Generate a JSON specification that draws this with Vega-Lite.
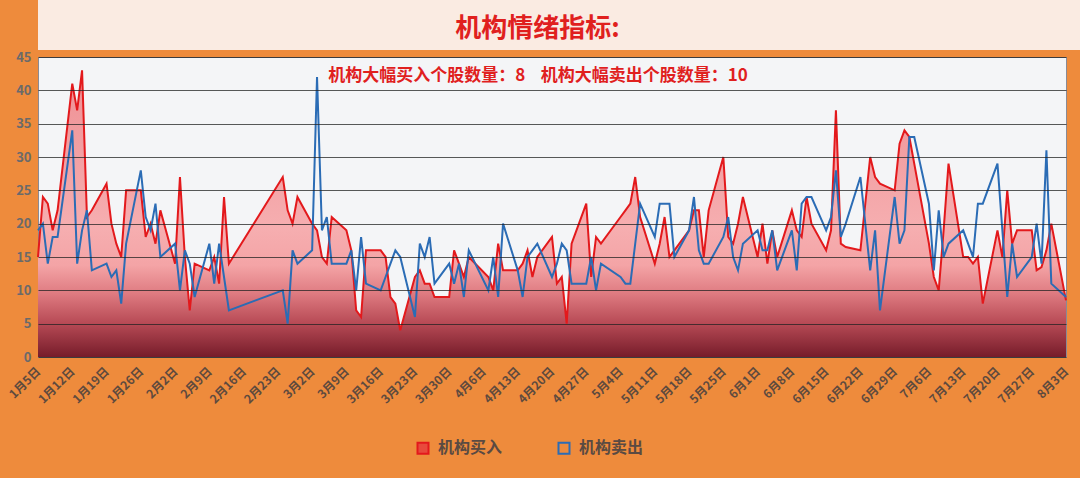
{
  "$schema": "https://vega.github.io/schema/vega-lite/v6.json",
  "background": "#EE8B3C",
  "padding": {"left": 0, "top": 0, "right": 0, "bottom": 30},
  "spacing": 0,
  "config": {
    "font": "Noto Sans CJK SC",
    "view": {"stroke": null}
  },
  "vconcat": [
    {
      "width": 1043,
      "height": 50,
      "view": {"fill": "#FAEBE2", "stroke": null},
      "data": {"values": [{}]},
      "mark": {"type": "text", "text": "机构情绪指标:", "color": "#E0201E", "fontSize": 26, "fontWeight": "bold", "dx": -22, "dy": 4},
      "encoding": {}
    },
    {
      "width": 1028,
      "height": 300,
      "view": {"fill": "#F4F5F7", "stroke": "#8A8A94"},
      "data": {
        "values": [
          {"date": "2015/01/05", "buy": 15, "sell": 19},
          {"date": "2015/01/06", "buy": 24, "sell": 20},
          {"date": "2015/01/07", "buy": 23, "sell": 14},
          {"date": "2015/01/08", "buy": 19, "sell": 18},
          {"date": "2015/01/09", "buy": 22, "sell": 18},
          {"date": "2015/01/12", "buy": 41, "sell": 34},
          {"date": "2015/01/13", "buy": 37, "sell": 14},
          {"date": "2015/01/14", "buy": 43, "sell": 19},
          {"date": "2015/01/15", "buy": 21, "sell": 22},
          {"date": "2015/01/16", "buy": 22, "sell": 13},
          {"date": "2015/01/19", "buy": 26, "sell": 14},
          {"date": "2015/01/20", "buy": 20, "sell": 12},
          {"date": "2015/01/21", "buy": 17, "sell": 13},
          {"date": "2015/01/22", "buy": 15, "sell": 8},
          {"date": "2015/01/23", "buy": 25, "sell": 17},
          {"date": "2015/01/26", "buy": 25, "sell": 28},
          {"date": "2015/01/27", "buy": 18, "sell": 21},
          {"date": "2015/01/28", "buy": 20, "sell": 19},
          {"date": "2015/01/29", "buy": 17, "sell": 23},
          {"date": "2015/01/30", "buy": 22, "sell": 15},
          {"date": "2015/02/02", "buy": 14, "sell": 17},
          {"date": "2015/02/03", "buy": 27, "sell": 10},
          {"date": "2015/02/04", "buy": 15, "sell": 16},
          {"date": "2015/02/05", "buy": 7, "sell": 14},
          {"date": "2015/02/06", "buy": 14, "sell": 9},
          {"date": "2015/02/09", "buy": 13, "sell": 17},
          {"date": "2015/02/10", "buy": 15, "sell": 11},
          {"date": "2015/02/11", "buy": 11, "sell": 17},
          {"date": "2015/02/12", "buy": 24, "sell": 12},
          {"date": "2015/02/13", "buy": 14, "sell": 7},
          {"date": "2015/02/24", "buy": 27, "sell": 10},
          {"date": "2015/02/25", "buy": 22, "sell": 5},
          {"date": "2015/02/26", "buy": 20, "sell": 16},
          {"date": "2015/02/27", "buy": 24, "sell": 14},
          {"date": "2015/03/02", "buy": 20, "sell": 16},
          {"date": "2015/03/03", "buy": 19, "sell": 42},
          {"date": "2015/03/04", "buy": 15, "sell": 19},
          {"date": "2015/03/05", "buy": 14, "sell": 21},
          {"date": "2015/03/06", "buy": 21, "sell": 14},
          {"date": "2015/03/09", "buy": 19, "sell": 14},
          {"date": "2015/03/10", "buy": 16, "sell": 16},
          {"date": "2015/03/11", "buy": 7, "sell": 10},
          {"date": "2015/03/12", "buy": 6, "sell": 18},
          {"date": "2015/03/13", "buy": 16, "sell": 11},
          {"date": "2015/03/16", "buy": 16, "sell": 10},
          {"date": "2015/03/17", "buy": 15, "sell": 12},
          {"date": "2015/03/18", "buy": 9, "sell": 14},
          {"date": "2015/03/19", "buy": 8, "sell": 16},
          {"date": "2015/03/20", "buy": 4, "sell": 15},
          {"date": "2015/03/23", "buy": 12, "sell": 6},
          {"date": "2015/03/24", "buy": 13, "sell": 17},
          {"date": "2015/03/25", "buy": 11, "sell": 15},
          {"date": "2015/03/26", "buy": 11, "sell": 18},
          {"date": "2015/03/27", "buy": 9, "sell": 11},
          {"date": "2015/03/30", "buy": 9, "sell": 14},
          {"date": "2015/03/31", "buy": 16, "sell": 11},
          {"date": "2015/04/01", "buy": 14, "sell": 14},
          {"date": "2015/04/02", "buy": 12, "sell": 9},
          {"date": "2015/04/03", "buy": 15, "sell": 16},
          {"date": "2015/04/07", "buy": 12, "sell": 10},
          {"date": "2015/04/08", "buy": 10, "sell": 15},
          {"date": "2015/04/09", "buy": 17, "sell": 9},
          {"date": "2015/04/10", "buy": 13, "sell": 20},
          {"date": "2015/04/13", "buy": 13, "sell": 13},
          {"date": "2015/04/14", "buy": 14, "sell": 9},
          {"date": "2015/04/15", "buy": 16, "sell": 15},
          {"date": "2015/04/16", "buy": 12, "sell": 16},
          {"date": "2015/04/17", "buy": 15, "sell": 17},
          {"date": "2015/04/20", "buy": 18, "sell": 12},
          {"date": "2015/04/21", "buy": 11, "sell": 14},
          {"date": "2015/04/22", "buy": 12, "sell": 17},
          {"date": "2015/04/23", "buy": 5, "sell": 16},
          {"date": "2015/04/24", "buy": 17, "sell": 11},
          {"date": "2015/04/27", "buy": 23, "sell": 11},
          {"date": "2015/04/28", "buy": 12, "sell": 15},
          {"date": "2015/04/29", "buy": 18, "sell": 10},
          {"date": "2015/04/30", "buy": 17, "sell": 14},
          {"date": "2015/05/04", "buy": 21, "sell": 12},
          {"date": "2015/05/05", "buy": 22, "sell": 11},
          {"date": "2015/05/06", "buy": 23, "sell": 11},
          {"date": "2015/05/07", "buy": 27, "sell": 17},
          {"date": "2015/05/08", "buy": 21, "sell": 23},
          {"date": "2015/05/11", "buy": 14, "sell": 18},
          {"date": "2015/05/12", "buy": 17, "sell": 23},
          {"date": "2015/05/13", "buy": 21, "sell": 23},
          {"date": "2015/05/14", "buy": 15, "sell": 23},
          {"date": "2015/05/15", "buy": 16, "sell": 15},
          {"date": "2015/05/18", "buy": 19, "sell": 19},
          {"date": "2015/05/19", "buy": 22, "sell": 24},
          {"date": "2015/05/20", "buy": 22, "sell": 16},
          {"date": "2015/05/21", "buy": 15, "sell": 14},
          {"date": "2015/05/22", "buy": 22, "sell": 14},
          {"date": "2015/05/25", "buy": 30, "sell": 18},
          {"date": "2015/05/26", "buy": 18, "sell": 21},
          {"date": "2015/05/27", "buy": 17, "sell": 15},
          {"date": "2015/05/28", "buy": 20, "sell": 13},
          {"date": "2015/05/29", "buy": 24, "sell": 17},
          {"date": "2015/06/01", "buy": 15, "sell": 19},
          {"date": "2015/06/02", "buy": 20, "sell": 16},
          {"date": "2015/06/03", "buy": 14, "sell": 16},
          {"date": "2015/06/04", "buy": 19, "sell": 19},
          {"date": "2015/06/05", "buy": 15, "sell": 13},
          {"date": "2015/06/08", "buy": 22, "sell": 19},
          {"date": "2015/06/09", "buy": 19, "sell": 13},
          {"date": "2015/06/10", "buy": 18, "sell": 23},
          {"date": "2015/06/11", "buy": 24, "sell": 24},
          {"date": "2015/06/12", "buy": 20, "sell": 24},
          {"date": "2015/06/15", "buy": 16, "sell": 19},
          {"date": "2015/06/16", "buy": 19, "sell": 21},
          {"date": "2015/06/17", "buy": 37, "sell": 28},
          {"date": "2015/06/18", "buy": 17, "sell": 18},
          {"date": "2015/06/19", "buy": 16.5, "sell": 20},
          {"date": "2015/06/22", "buy": 16, "sell": 27},
          {"date": "2015/06/24", "buy": 30, "sell": 13},
          {"date": "2015/06/25", "buy": 27, "sell": 19},
          {"date": "2015/06/26", "buy": 26, "sell": 7},
          {"date": "2015/06/29", "buy": 25, "sell": 24},
          {"date": "2015/06/30", "buy": 32, "sell": 17},
          {"date": "2015/07/01", "buy": 34, "sell": 19},
          {"date": "2015/07/02", "buy": 33, "sell": 33},
          {"date": "2015/07/03", "buy": 29, "sell": 33},
          {"date": "2015/07/06", "buy": 17, "sell": 23},
          {"date": "2015/07/07", "buy": 12, "sell": 13},
          {"date": "2015/07/08", "buy": 10, "sell": 22},
          {"date": "2015/07/09", "buy": 19, "sell": 15},
          {"date": "2015/07/10", "buy": 29, "sell": 17},
          {"date": "2015/07/13", "buy": 15, "sell": 19},
          {"date": "2015/07/14", "buy": 15, "sell": 17},
          {"date": "2015/07/15", "buy": 14, "sell": 15},
          {"date": "2015/07/16", "buy": 15, "sell": 23},
          {"date": "2015/07/17", "buy": 8, "sell": 23},
          {"date": "2015/07/20", "buy": 19, "sell": 29},
          {"date": "2015/07/21", "buy": 15, "sell": 19},
          {"date": "2015/07/22", "buy": 25, "sell": 9},
          {"date": "2015/07/23", "buy": 17, "sell": 17},
          {"date": "2015/07/24", "buy": 19, "sell": 12},
          {"date": "2015/07/27", "buy": 19, "sell": 15},
          {"date": "2015/07/28", "buy": 13, "sell": 20},
          {"date": "2015/07/29", "buy": 13.5, "sell": 14},
          {"date": "2015/07/30", "buy": 16, "sell": 31},
          {"date": "2015/07/31", "buy": 20, "sell": 11},
          {"date": "2015/08/03", "buy": 8.5, "sell": 9}
        ]
      },
      "layer": [
        {
          "mark": {
            "type": "area",
            "color": {
              "gradient": "linear",
              "x1": 0, "y1": 0, "x2": 0, "y2": 1,
              "stops": [
                {"offset": 0, "color": "#EE9094"},
                {"offset": 0.55, "color": "#F6AEB0"},
                {"offset": 0.68, "color": "#F4A4A6"},
                {"offset": 0.78, "color": "#DE7A80"},
                {"offset": 0.88, "color": "#B84B56"},
                {"offset": 1, "color": "#761C2A"}
              ]
            }
          },
          "encoding": {
            "x": {
              "field": "date",
              "type": "temporal",
              "title": null,
              "scale": {"domain": [{"year": 2015, "month": 1, "date": 5}, {"year": 2015, "month": 8, "date": 3}], "nice": false},
              "axis": {
                "format": "%-m月%-d日",
                "labelAngle": -45,
                "labelFontSize": 12,
                "labelFontWeight": "bold",
                "labelColor": "#5E4A3E",
                "labelPadding": 12,
                "labelBaseline": "middle",
                "labelAlign": "right",
                "ticks": false,
                "domain": false,
                "grid": false,
                "labelOverlap": false,
                "values": [
                  {"year": 2015, "month": 1, "date": 5}, {"year": 2015, "month": 1, "date": 12}, {"year": 2015, "month": 1, "date": 19}, {"year": 2015, "month": 1, "date": 26},
                  {"year": 2015, "month": 2, "date": 2}, {"year": 2015, "month": 2, "date": 9}, {"year": 2015, "month": 2, "date": 16}, {"year": 2015, "month": 2, "date": 23},
                  {"year": 2015, "month": 3, "date": 2}, {"year": 2015, "month": 3, "date": 9}, {"year": 2015, "month": 3, "date": 16}, {"year": 2015, "month": 3, "date": 23}, {"year": 2015, "month": 3, "date": 30},
                  {"year": 2015, "month": 4, "date": 6}, {"year": 2015, "month": 4, "date": 13}, {"year": 2015, "month": 4, "date": 20}, {"year": 2015, "month": 4, "date": 27},
                  {"year": 2015, "month": 5, "date": 4}, {"year": 2015, "month": 5, "date": 11}, {"year": 2015, "month": 5, "date": 18}, {"year": 2015, "month": 5, "date": 25},
                  {"year": 2015, "month": 6, "date": 1}, {"year": 2015, "month": 6, "date": 8}, {"year": 2015, "month": 6, "date": 15}, {"year": 2015, "month": 6, "date": 22}, {"year": 2015, "month": 6, "date": 29},
                  {"year": 2015, "month": 7, "date": 6}, {"year": 2015, "month": 7, "date": 13}, {"year": 2015, "month": 7, "date": 20}, {"year": 2015, "month": 7, "date": 27},
                  {"year": 2015, "month": 8, "date": 3}
                ]
              }
            },
            "y": {
              "field": "buy",
              "type": "quantitative",
              "title": null,
              "scale": {"domain": [0, 45], "nice": false},
              "axis": {
                "values": [0, 5, 10, 15, 20, 25, 30, 35, 40, 45],
                "grid": true,
                "gridColor": "#222222",
                "gridOpacity": 0.75,
                "gridWidth": 1.2,
                "domain": false,
                "ticks": false,
                "labelColor": "#6A6A6A",
                "labelFontSize": 13,
                "labelFontWeight": "bold",
                "labelPadding": 7,
                "labelOverlap": false,
                "minExtent": 37,
                "maxExtent": 37,
                "zindex": 1
              }
            }
          }
        },
        {
          "transform": [{"fold": ["buy", "sell"], "as": ["series", "value"]}],
          "mark": {"type": "line", "strokeWidth": 2},
          "encoding": {
            "x": {
              "field": "date",
              "type": "temporal",
              "title": null,
              "axis": {
                "format": "%-m月%-d日",
                "labelAngle": -45,
                "labelFontSize": 12,
                "labelFontWeight": "bold",
                "labelColor": "#5E4A3E",
                "labelPadding": 12,
                "labelBaseline": "middle",
                "labelAlign": "right",
                "ticks": false,
                "domain": false,
                "grid": false,
                "labelOverlap": false,
                "values": [
                  {"year": 2015, "month": 1, "date": 5}, {"year": 2015, "month": 1, "date": 12}, {"year": 2015, "month": 1, "date": 19}, {"year": 2015, "month": 1, "date": 26},
                  {"year": 2015, "month": 2, "date": 2}, {"year": 2015, "month": 2, "date": 9}, {"year": 2015, "month": 2, "date": 16}, {"year": 2015, "month": 2, "date": 23},
                  {"year": 2015, "month": 3, "date": 2}, {"year": 2015, "month": 3, "date": 9}, {"year": 2015, "month": 3, "date": 16}, {"year": 2015, "month": 3, "date": 23}, {"year": 2015, "month": 3, "date": 30},
                  {"year": 2015, "month": 4, "date": 6}, {"year": 2015, "month": 4, "date": 13}, {"year": 2015, "month": 4, "date": 20}, {"year": 2015, "month": 4, "date": 27},
                  {"year": 2015, "month": 5, "date": 4}, {"year": 2015, "month": 5, "date": 11}, {"year": 2015, "month": 5, "date": 18}, {"year": 2015, "month": 5, "date": 25},
                  {"year": 2015, "month": 6, "date": 1}, {"year": 2015, "month": 6, "date": 8}, {"year": 2015, "month": 6, "date": 15}, {"year": 2015, "month": 6, "date": 22}, {"year": 2015, "month": 6, "date": 29},
                  {"year": 2015, "month": 7, "date": 6}, {"year": 2015, "month": 7, "date": 13}, {"year": 2015, "month": 7, "date": 20}, {"year": 2015, "month": 7, "date": 27},
                  {"year": 2015, "month": 8, "date": 3}
                ]
              }
            },
            "y": {
              "field": "value",
              "type": "quantitative",
              "title": null,
              "axis": {
                "values": [0, 5, 10, 15, 20, 25, 30, 35, 40, 45],
                "grid": true,
                "gridColor": "#222222",
                "gridOpacity": 0.75,
                "gridWidth": 1.2,
                "domain": false,
                "ticks": false,
                "labelColor": "#6A6A6A",
                "labelFontSize": 13,
                "labelFontWeight": "bold",
                "labelPadding": 7,
                "labelOverlap": false,
                "minExtent": 37,
                "maxExtent": 37,
                "zindex": 1
              }
            },
            "color": {
              "field": "series",
              "type": "nominal",
              "scale": {"domain": ["buy", "sell"], "range": ["#E3191C", "#2B6CB5"]},
              "legend": {
                "title": null,
                "orient": "none",
                "legendX": 377,
                "legendY": 440,
                "direction": "horizontal",
                "symbolType": "square",
                "symbolSize": 121,
                "symbolStrokeWidth": 2,
                "labelFontSize": 16,
                "labelFontWeight": "bold",
                "labelColor": "#5A4A42",
                "labelOffset": 7,
                "columnPadding": 51,
                "padding": 0,
                "labelExpr": "datum.label == 'buy' ? '机构买入' : '机构卖出'",
                "encode": {
                  "symbols": {
                    "update": {
                      "fill": {"signal": "datum.value === 'buy' ? '#E84A3C' : 'rgba(0,0,0,0)'"},
                      "stroke": {"signal": "datum.value === 'buy' ? '#E3191C' : '#5A6A80'"}
                    }
                  }
                }
              }
            }
          }
        },
        {
          "data": {"values": [{}]},
          "mark": {"type": "text", "text": "机构大幅买入个股数量：8\u00a0\u00a0\u00a0\u00a0机构大幅卖出个股数量：10", "color": "#E0201E", "fontSize": 17, "fontWeight": "bold", "dx": -14},
          "encoding": {
            "y": {
              "datum": 42.2,
              "type": "quantitative",
              "axis": {
                "values": [0, 5, 10, 15, 20, 25, 30, 35, 40, 45],
                "grid": true,
                "gridColor": "#222222",
                "gridOpacity": 0.75,
                "gridWidth": 1.2,
                "domain": false,
                "ticks": false,
                "labelColor": "#6A6A6A",
                "labelFontSize": 13,
                "labelFontWeight": "bold",
                "labelPadding": 7,
                "labelOverlap": false,
                "minExtent": 37,
                "maxExtent": 37,
                "zindex": 1
              }
            }
          }
        }
      ]
    }
  ]
}
